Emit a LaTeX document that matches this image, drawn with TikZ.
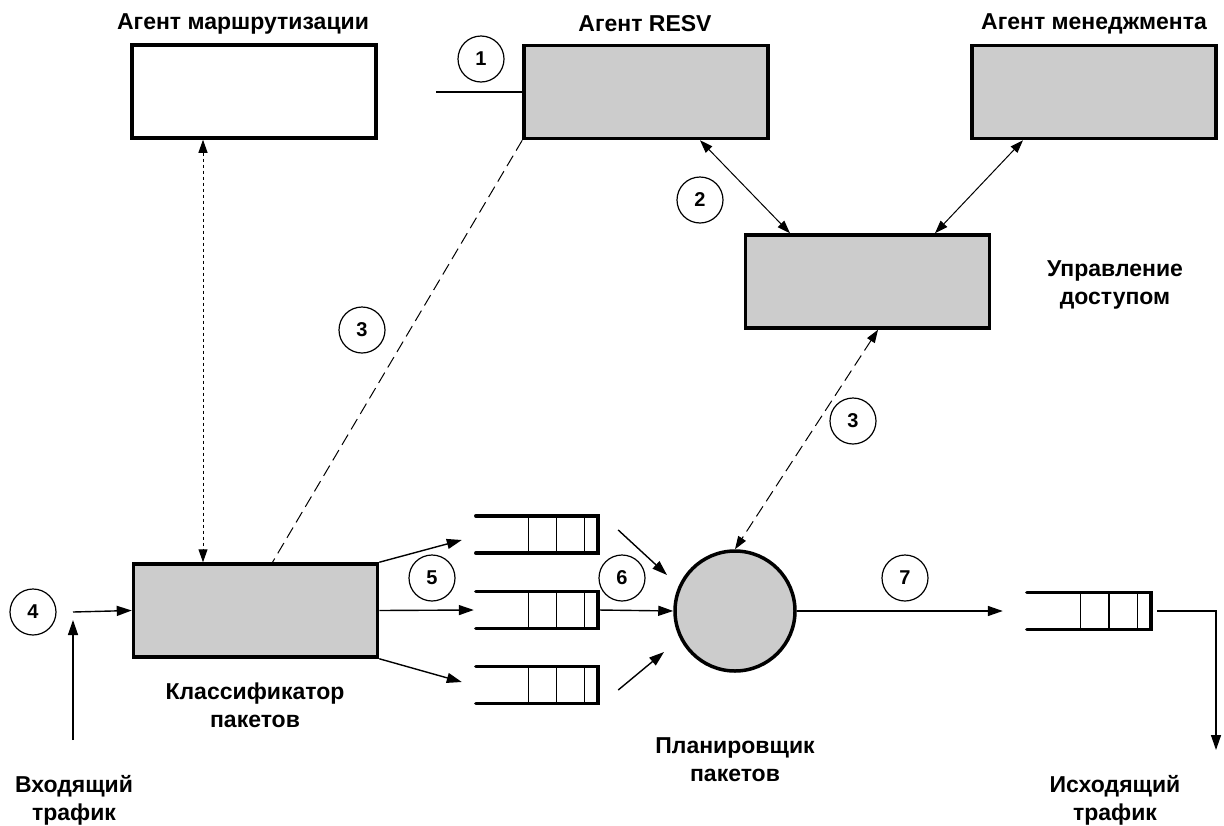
\documentclass[tikz,border=0pt]{standalone}
\usepackage{fontspec}
\setmainfont{Liberation Sans}
\usetikzlibrary{arrows.meta, positioning, calc}
\definecolor{boxgray}{RGB}{204,204,204}

\begin{document}
\begin{tikzpicture}[x=1pt, y=-1pt,
    box/.style={rectangle, draw, line width=3.5pt, fill=boxgray, minimum width=244pt, minimum height=93pt, inner sep=0pt},
    num/.style={circle, draw, line width=1.2pt, minimum size=46pt, inner sep=0pt, font=\fontsize{20}{24}\selectfont\bfseries},
    lbl/.style={align=center, font=\fontsize{23}{28}\selectfont\bfseries},
    queue/.style={rectangle, minimum width=122pt, minimum height=37pt, inner sep=0pt},
    arrow/.style={-{Triangle[length=15pt, width=10pt]}, line width=1.4pt},
    twoway/.style={{Triangle[length=13pt, width=9pt]}-{Triangle[length=13pt, width=9pt]}, line width=1pt}
]
\useasboundingbox (0,0) rectangle (1224,825);

% agents
\node[box, fill=white] (route) at (254,91.5) {};
\node[box] (resv) at (646,92) {};
\node[box] (mgmt) at (1094,92) {};
\node[box] (adm) at (867.5,281.5) {};
\node[box] (cls) at (255.5,610.5) {};
\node[circle, draw, line width=3.5pt, fill=boxgray, minimum size=120pt, inner sep=0pt] (sched) at (735,611) {};

\node[lbl] (lroute) at (243,24) {Агент маршрутизации};
\node[lbl] (lresv) at (645,24) {Агент RESV};
\node[lbl] (lmgmt) at (1094,24) {Агент менеджмента};
\node[lbl] (ladm) at (1115,285) {Управление\\доступом};
\node[lbl] (lcls) at (255,705) {Классификатор\\пакетов};
\node[lbl] (lsched) at (735,760) {Планировщик\\пакетов};
\node[lbl] (lin) at (74,800) {Входящий\\трафик};
\node[lbl] (lout) at (1115,800) {Исходящий\\трафик};

% queues
\node[queue] (q1) at (537,534.5) {};
\node[queue] (q2) at (537,610) {};
\node[queue] (q3) at (537,685) {};
\node[queue, minimum width=124pt] (qout) at (1089,611) {};
\foreach \q in {q1,q2,q3,qout} {
  \draw[line width=3.5pt, line cap=round] (\q.north west) -- (\q.north east) -- (\q.south east) -- (\q.south west);
  \foreach \f in {0.43,0.66,0.89}
    \draw[line width=1.2pt] ($(\q.north west)!\f!(\q.north east)$) -- ($(\q.south west)!\f!(\q.south east)$);
}

% numbers
\node[num] (n1) at (481,59) {1};
\node[num] (n2) at (700,200) {2};
\node[num] (n3a) at (362,330) {3};
\node[num] (n3b) at (853,421) {3};
\node[num] (n4) at (33,612) {4};
\node[num] (n5) at (432,578) {5};
\node[num] (n6) at (622,578) {6};
\node[num] (n7) at (905,578) {7};

% signalling
\draw[line width=1.4pt] (resv.west) -- ++(-86,0);
\draw[twoway] ([xshift=54pt]resv.south) -- ([xshift=-77.5pt]adm.north);
\draw[twoway] ([xshift=-71pt]mgmt.south) -- ([xshift=67.5pt]adm.north);
\draw[twoway, dash pattern=on 3pt off 3pt] ([xshift=-51pt]route.south) -- ([xshift=-52.5pt]cls.north);
\draw[line width=1pt, dash pattern=on 12pt off 6pt] (resv.south west) -- ([xshift=17pt]cls.north);
\draw[twoway, dash pattern=on 12pt off 6pt] ([xshift=10.5pt]adm.south) -- (sched.north);

% data path
\coordinate (inbot) at (73,740);
\draw[arrow] (inbot) -- (73,620);
\draw[arrow] (73,612) -- (cls.west);
\draw[arrow] (cls.north east) -- ($(q1.west)+(-14,5.5)$);
\draw[arrow] (cls.east) -- ($(q2.west)+(-2,0)$);
\draw[arrow] (cls.south east) -- ($(q3.west)+(-14,-3)$);
\draw[arrow] ($(q1.east)+(20,-4.5)$) -- ($(sched.center)+(-68,-36)$);
\draw[arrow] (q2.east) -- (sched.west);
\draw[arrow] ($(q3.east)+(20,5)$) -- ($(sched.center)+(-71,41)$);
\draw[arrow] (sched.east) -- ($(qout.west)+(-24,0)$);
\coordinate (outend) at (1216,750);
\draw[arrow] ($(qout.east)+(6,0)$) -| (outend);
\end{tikzpicture}
\end{document}
